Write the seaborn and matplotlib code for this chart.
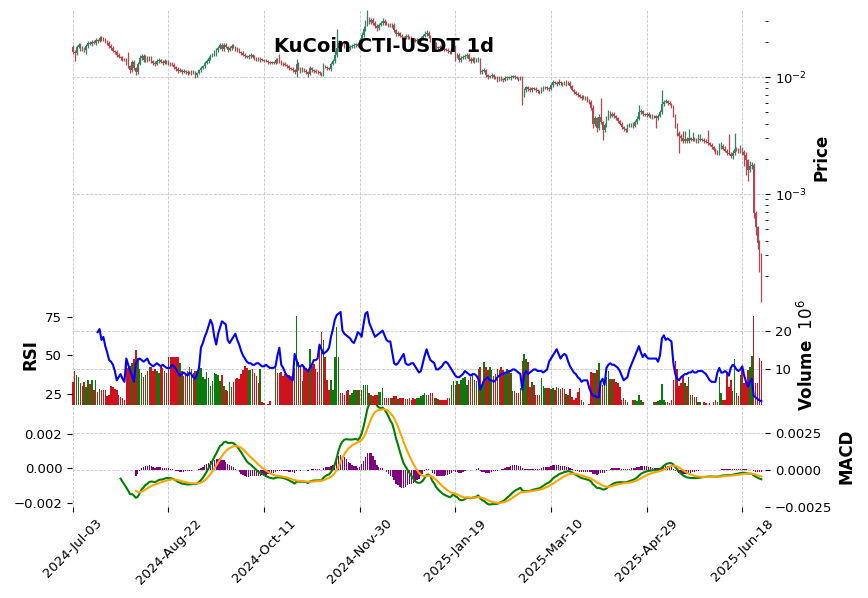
import numpy as np
import pandas as pd
import matplotlib
matplotlib.use("Agg")
import matplotlib.pyplot as plt
import matplotlib.ticker as mticker
import seaborn as sns

title = "KuCoin CTI-USDT 1d"
start_date = "2024-07-03"
first_open = 0.01806

# daily closes (USDT)
close = [
    0.01637, 0.01605, 0.01806, 0.01879, 0.01736, 0.01771, 0.01702, 0.01842, 0.01954, 0.01916,
    0.01993, 0.01954, 0.02073, 0.02033, 0.02156, 0.02114, 0.02073, 0.02033, 0.01954, 0.01842,
    0.01771, 0.01669, 0.01637, 0.01543, 0.01483, 0.01454, 0.01426, 0.01398, 0.01318, 0.01242,
    0.01148, 0.01344, 0.01194, 0.01104, 0.01292, 0.01454, 0.01513, 0.01398, 0.01483, 0.01398,
    0.01454, 0.01371, 0.01318, 0.01292, 0.01371, 0.01398, 0.01344, 0.01318, 0.01371, 0.01344,
    0.01318, 0.01292, 0.01267, 0.01218, 0.01171, 0.01126, 0.01148, 0.01104, 0.01126, 0.01104,
    0.01082, 0.01104, 0.01082, 0.01104, 0.01040, 0.01082, 0.01148, 0.01194, 0.01242, 0.01318,
    0.01371, 0.01454, 0.01513, 0.01573, 0.01637, 0.01702, 0.01771, 0.01879, 0.01736, 0.01879,
    0.01806, 0.01702, 0.01771, 0.01842, 0.01806, 0.01736, 0.01702, 0.01637, 0.01605, 0.01543,
    0.01513, 0.01483, 0.01513, 0.01543, 0.01483, 0.01454, 0.01426, 0.01398, 0.01426, 0.01398,
    0.01371, 0.01360, 0.01344, 0.01330, 0.01335, 0.01325, 0.01398, 0.01371, 0.01344, 0.01318,
    0.01292, 0.01267, 0.01242, 0.01194, 0.01171, 0.01148, 0.01104, 0.01292, 0.01194, 0.01148,
    0.01171, 0.01126, 0.01104, 0.01061, 0.01194, 0.01148, 0.01126, 0.01104, 0.01093, 0.01082,
    0.01061, 0.01242, 0.01218, 0.01194, 0.01171, 0.01292, 0.01371, 0.01543, 0.01771, 0.01954,
    0.01916, 0.01879, 0.01842, 0.01806, 0.01771, 0.01806, 0.01842, 0.01879, 0.01916, 0.01842,
    0.02073, 0.02288, 0.02575, 0.02841, 0.03074, 0.02955, 0.03074, 0.02898, 0.02732, 0.02626,
    0.02786, 0.02898, 0.03014, 0.02898, 0.02841, 0.02786, 0.02732, 0.02786, 0.02525, 0.02333,
    0.02380, 0.02243, 0.02199, 0.02156, 0.02243, 0.02199, 0.02156, 0.02114, 0.02073, 0.02033,
    0.02073, 0.02114, 0.02156, 0.02243, 0.02333, 0.02380, 0.02243, 0.02073, 0.01842, 0.01916,
    0.01771, 0.01806, 0.01771, 0.01736, 0.01720, 0.01702, 0.01669, 0.01637, 0.01736, 0.01806,
    0.01513, 0.01543, 0.01398, 0.01454, 0.01483, 0.01513, 0.01543, 0.01426, 0.01371, 0.01426,
    0.01371, 0.01398, 0.01426, 0.01104, 0.01126, 0.01148, 0.01040, 0.01000, 0.01020, 0.01040,
    0.01000, 0.00981, 0.00943, 0.00981, 0.00962, 0.00943, 0.00981, 0.01000, 0.00981, 0.01000,
    0.01020, 0.01000, 0.00981, 0.00962, 0.00981, 0.00702, 0.00774, 0.00821, 0.00790, 0.00774,
    0.00805, 0.00790, 0.00774, 0.00759, 0.00745, 0.00790, 0.00805, 0.00821, 0.00805, 0.00790,
    0.00854, 0.00906, 0.00889, 0.00871, 0.00906, 0.00889, 0.00871, 0.00906, 0.00871, 0.00889,
    0.00838, 0.00774, 0.00745, 0.00716, 0.00702, 0.00675, 0.00662, 0.00675, 0.00662, 0.00636,
    0.00612, 0.00544, 0.00396, 0.00446, 0.00366, 0.00455, 0.00412, 0.00352, 0.00389, 0.00446,
    0.00493, 0.00464, 0.00483, 0.00464, 0.00446, 0.00420, 0.00397, 0.00374, 0.00359, 0.00352,
    0.00381, 0.00389, 0.00397, 0.00381, 0.00412, 0.00438, 0.00502, 0.00512, 0.00483, 0.00473,
    0.00483, 0.00464, 0.00473, 0.00455, 0.00464, 0.00446, 0.00464, 0.00502, 0.00588, 0.00612,
    0.00624, 0.00600, 0.00588, 0.00565, 0.00473, 0.00389, 0.00332, 0.00313, 0.00301, 0.00284,
    0.00295, 0.00284, 0.00301, 0.00290, 0.00295, 0.00290, 0.00284, 0.00290, 0.00295, 0.00290,
    0.00284, 0.00279, 0.00273, 0.00263, 0.00253, 0.00238, 0.00229, 0.00220, 0.00248, 0.00258,
    0.00243, 0.00233, 0.00224, 0.00220, 0.00211, 0.00224, 0.00243, 0.00238, 0.00233, 0.00238,
    0.00229, 0.00216, 0.00195, 0.00160, 0.00173, 0.00177, 0.000689, 0.000522, 0.000382, 0.000301, 0.000233,
]

# upper / lower wick length, % beyond the candle body
upper_wick_pct = [
    4, 3, 5, 3, 4, 3, 2, 4, 5, 3,
    3, 4, 3, 2, 4, 3, 5, 3, 2, 3,
    4, 3, 2, 3, 3, 2, 3, 2, 4, 25,
    3, 5, 3, 2, 4, 6, 3, 4, 3, 2,
    3, 4, 2, 3, 3, 4, 2, 3, 3, 2,
    3, 2, 4, 3, 2, 3, 4, 2, 3, 2,
    3, 2, 3, 4, 2, 3, 3, 4, 2, 3,
    3, 4, 3, 2, 4, 3, 5, 3, 4, 3,
    3, 2, 4, 3, 3, 2, 4, 3, 2, 3,
    3, 2, 3, 3, 2, 3, 2, 3, 4, 2,
    2, 3, 2, 2, 3, 2, 4, 3, 15, 3,
    2, 3, 2, 3, 2, 3, 3, 10, 4, 3,
    3, 2, 3, 2, 5, 3, 2, 3, 3, 2,
    3, 6, 3, 2, 3, 4, 5, 8, 45, 6,
    3, 4, 3, 2, 3, 3, 4, 3, 2, 3,
    4, 5, 6, 8, 21, 5, 4, 3, 4, 3,
    3, 4, 5, 3, 3, 2, 3, 4, 3, 2,
    3, 2, 3, 2, 4, 3, 2, 3, 2, 3,
    3, 2, 3, 4, 5, 6, 3, 2, 3, 4,
    3, 2, 3, 2, 3, 2, 3, 2, 4, 5,
    3, 4, 3, 3, 4, 3, 4, 3, 3, 4,
    3, 4, 3, 2, 3, 4, 3, 2, 3, 4,
    3, 2, 3, 4, 3, 2, 4, 3, 3, 4,
    3, 2, 3, 2, 5, 3, 4, 3, 2, 3,
    3, 2, 3, 2, 3, 3, 4, 3, 2, 3,
    4, 5, 3, 3, 6, 3, 2, 3, 4, 3,
    3, 2, 3, 2, 3, 2, 3, 4, 2, 3,
    3, 4, 5, 4, 3, 6, 45, 3, 4, 5,
    5, 3, 4, 3, 2, 3, 2, 3, 2, 3,
    4, 3, 2, 3, 5, 6, 15, 4, 3, 2,
    3, 4, 3, 2, 3, 2, 4, 5, 32, 4,
    3, 2, 3, 2, 3, 2, 3, 4, 5, 15,
    18, 4, 20, 3, 15, 4, 3, 12, 10, 3,
    4, 3, 27, 2, 3, 2, 3, 4, 10, 8,
    3, 5, 4, 45, 3, 6, 37, 3, 4, 10,
    5, 4, 6, 3, 10, 6, 3, 4, 3, 5, 3,
]
lower_wick_pct = [
    4, 14, 3, 2, 4, 3, 4, 7, 3, 2,
    3, 2, 4, 3, 2, 3, 2, 3, 4, 3,
    3, 2, 3, 4, 2, 3, 3, 2, 4, 3,
    5, 3, 4, 6, 3, 2, 3, 4, 3, 3,
    2, 3, 4, 3, 2, 3, 2, 3, 2, 3,
    3, 4, 2, 3, 3, 4, 2, 3, 2, 3,
    3, 2, 3, 2, 5, 3, 2, 3, 2, 3,
    2, 3, 3, 2, 3, 8, 3, 2, 3, 3,
    2, 3, 2, 3, 2, 3, 3, 2, 3, 2,
    3, 2, 3, 3, 2, 3, 3, 2, 3, 2,
    2, 2, 3, 2, 2, 3, 2, 3, 2, 3,
    3, 2, 3, 3, 2, 3, 4, 10, 3, 5,
    3, 2, 3, 6, 2, 3, 3, 2, 3, 3,
    4, 3, 2, 3, 2, 3, 2, 3, 4, 3,
    3, 2, 3, 3, 2, 3, 2, 3, 3, 2,
    3, 2, 3, 4, 3, 4, 3, 3, 4, 5,
    3, 2, 3, 3, 2, 3, 2, 3, 4, 3,
    3, 2, 3, 3, 2, 3, 2, 3, 3, 2,
    3, 2, 3, 3, 2, 3, 3, 4, 6, 3,
    3, 2, 3, 2, 3, 2, 3, 4, 3, 2,
    10, 3, 4, 3, 2, 3, 3, 4, 3, 2,
    3, 2, 3, 4, 3, 2, 3, 3, 2, 3,
    3, 2, 3, 2, 3, 3, 2, 3, 2, 3,
    2, 3, 2, 3, 2, 18, 3, 3, 4, 3,
    3, 2, 3, 3, 3, 2, 3, 2, 3, 3,
    2, 3, 2, 3, 2, 3, 3, 2, 3, 2,
    3, 2, 3, 2, 3, 2, 3, 2, 3, 3,
    3, 4, 8, 3, 8, 4, 3, 18, 3, 4,
    3, 3, 2, 3, 3, 4, 3, 3, 3, 4,
    3, 2, 3, 3, 2, 3, 2, 3, 3, 2,
    3, 2, 3, 3, 2, 18, 3, 2, 3, 3,
    2, 3, 2, 3, 4, 5, 6, 29, 5, 4,
    3, 4, 3, 3, 2, 3, 4, 3, 3, 2,
    3, 2, 3, 3, 4, 3, 4, 3, 3, 2,
    3, 2, 3, 3, 4, 6, 3, 3, 4, 3,
    5, 20, 25, 20, 4, 5, 10, 15, 12, 29, 49,
]

# daily volume, millions
volume_m = [
    6.7, 9.5, 8.4, 8.0, 6.3, 5.5, 6.7, 5.3, 7.1, 6.0,
    7.1, 4.5, 7.1, 4.0, 4.7, 4.5, 4.5, 4.6, 2.9, 3.2,
    5.5, 5.3, 4.8, 4.5, 3.2, 2.7, 2.5, 1.8, 11.9, 10.3,
    10.7, 11.5, 12.6, 15.0, 12.9, 10.0, 8.9, 7.9, 8.4, 9.5,
    10.5, 10.5, 9.5, 9.9, 9.5, 8.9, 10.7, 10.3, 9.5, 8.9,
    13.2, 13.2, 13.2, 13.2, 13.2, 13.2, 11.5, 9.5, 8.1, 9.0,
    9.5, 10.5, 10.0, 9.0, 9.5, 9.5, 10.0, 10.3, 8.0, 7.3,
    9.2, 7.5, 5.5, 6.8, 9.0, 8.8, 8.5, 6.8, 8.5, 5.5,
    4.5, 4.1, 6.5, 5.3, 6.5, 7.3, 7.7, 7.3, 8.6, 9.6,
    10.7, 10.2, 9.8, 9.6, 10.0, 9.0, 8.2, 6.2, 10.1, 1.2,
    1.0, 0.4, 0.9, 1.5, 0.4, 0.4, 11.6, 8.9, 8.9, 9.1,
    8.1, 8.7, 8.3, 8.5, 8.1, 8.5, 10.2, 24.0, 11.9, 10.7,
    6.9, 10.7, 10.2, 9.7, 15.2, 10.7, 11.4, 9.9, 9.1, 16.3,
    19.8, 17.6, 13.2, 7.0, 4.5, 7.2, 4.5, 13.2, 21.0, 13.2,
    3.6, 3.8, 3.2, 4.1, 4.5, 3.2, 3.6, 4.4, 4.6, 4.4,
    4.6, 4.4, 5.7, 5.7, 5.8, 3.6, 3.2, 2.9, 3.2, 3.2,
    4.0, 4.0, 4.9, 2.3, 2.5, 2.3, 2.5, 2.5, 3.0, 3.0,
    2.0, 2.3, 2.3, 2.5, 2.0, 2.0, 2.3, 1.8, 2.3, 2.1,
    2.3, 2.5, 2.8, 3.2, 3.6, 3.2, 3.2, 3.6, 3.8, 2.3,
    2.3, 2.0, 1.8, 1.8, 1.8, 1.8, 2.3, 2.3, 5.8, 6.9,
    5.8, 6.9, 6.1, 7.2, 7.5, 7.8, 5.7, 7.2, 7.8, 8.8,
    7.2, 6.8, 9.9, 10.4, 5.9, 11.9, 10.4, 9.8, 10.4, 9.6,
    8.2, 8.8, 10.0, 9.7, 10.4, 9.8, 9.3, 9.9, 9.1, 8.9,
    4.3, 4.2, 3.6, 3.8, 5.0, 12.0, 14.0, 12.6, 11.7, 5.2,
    6.7, 5.8, 3.2, 3.2, 3.2, 7.6, 5.6, 5.1, 5.1, 5.0,
    4.7, 5.0, 4.5, 5.2, 5.0, 4.8, 5.0, 4.7, 3.4, 3.2,
    4.8, 2.6, 1.8, 2.3, 4.0, 5.0, 1.8, 1.2, 0.4, 0.4,
    0.8, 9.3, 8.9, 8.9, 9.7, 11.5, 6.9, 5.8, 6.1, 7.9,
    9.4, 7.3, 7.3, 7.3, 6.7, 6.3, 5.2, 1.8, 2.3, 1.8,
    1.3, 0.4, 0.4, 1.8, 1.8, 1.5, 3.1, 1.9, 1.3, 0.4,
    0.4, 0.4, 0.4, 0.4, 1.3, 1.3, 1.5, 1.8, 6.1, 1.8,
    1.3, 1.3, 1.0, 1.8, 7.2, 12.0, 10.0, 5.4, 6.3, 8.5,
    6.3, 5.4, 7.9, 3.1, 3.1, 2.7, 2.7, 1.3, 1.3, 0.4,
    1.3, 1.0, 0.4, 1.0, 0.4, 1.3, 1.8, 1.3, 7.9, 3.8,
    1.8, 1.8, 9.0, 5.2, 7.1, 4.2, 12.5, 3.6, 2.9, 8.4,
    9.7, 6.2, 6.6, 9.7, 10.5, 13.4, 23.8, 6.2, 6.2, 12.8, 12.0,
]

# RSI(14)
rsi_values = [np.nan] * 13 + [
    65, 67, 60, 62, 56, 52, 47,
    46, 44, 40, 34, 36, 38, 35, 33, 48, 44,
    40, 37, 33, 45, 47, 48, 47, 46, 47, 48,
    45, 44, 43, 44, 45, 44, 43, 44, 43, 42,
    42, 42, 44, 43, 41, 39, 37, 38, 39, 38,
    37, 39, 38, 36, 35, 38, 42, 55, 58, 62,
    65, 69, 73, 70, 62, 57, 64, 68, 72, 71,
    70, 60, 58, 60, 62, 64, 60, 57, 53, 50,
    48, 46, 45, 45, 44, 44, 45, 45, 44, 43,
    43, 44, 43, 42, 42, 42, 43, 50, 55, 44,
    42, 39, 37, 36, 35, 34, 51, 47, 43, 43,
    44, 42, 41, 40, 42, 44, 47, 47, 48, 57,
    54, 51, 52, 53, 55, 62, 67, 73, 76, 77,
    78, 66, 64, 63, 62, 61, 59, 58, 61, 65,
    64, 62, 70, 77, 78, 71, 68, 65, 62, 63,
    64, 65, 66, 63, 60, 59, 59, 52, 45, 44,
    45, 47, 49, 51, 45, 44, 44, 45, 45, 43,
    41, 39, 40, 45, 50, 54, 50, 47, 46, 45,
    41, 41, 42, 43, 45, 46, 45, 43, 41, 39,
    37, 36, 36, 37, 38, 40, 39, 38, 37, 38,
    38, 37, 35, 28, 31, 34, 35, 36, 34, 34,
    33, 34, 36, 37, 38, 38, 39, 39, 40, 40,
    41, 41, 40, 39, 38, 28, 38, 40, 38, 39,
    40, 41, 41, 40, 40, 40, 39, 40, 41, 46,
    48, 50, 52, 54, 51, 48, 50, 51, 50, 46,
    43, 41, 39, 38, 36, 35, 33, 34, 34, 34,
    29, 26, 24, 24, 23, 23, 33, 35, 31, 42,
    44, 45, 44, 44, 43, 42, 40, 37, 34, 35,
    36, 41, 44, 47, 50, 53, 56, 52, 49, 51,
    49, 48, 48, 48, 48, 48, 46, 50, 61, 63,
    60, 61, 60, 59, 45, 38, 35, 34, 36, 37,
    38, 38, 39, 39, 40, 39, 39, 40, 40, 40,
    39, 38, 36, 34, 33, 33, 33, 39, 42, 39,
    39, 40, 39, 37, 42, 44, 43, 41, 40, 41,
    43, 37, 33, 30, 33, 35, 24, 23, 22, 21, 20.6,
]

n = len(close)
assert len(upper_wick_pct) == n and len(lower_wick_pct) == n
assert len(volume_m) == n and len(rsi_values) == n, (n, len(volume_m), len(rsi_values))

dates = pd.date_range(start_date, periods=n, freq="D")
idx = np.arange(n)
c = np.array(close)
o = np.concatenate([[first_open], c[:-1]])
top = np.maximum(o, c)
bot = np.minimum(o, c)
high = top * (1 + np.array(upper_wick_pct) / 100.0)
low = bot * (1 - np.array(lower_wick_pct) / 100.0)
up = c >= o

s = pd.Series(c)
ema12 = s.ewm(span=12, adjust=False, min_periods=26).mean()
ema26 = s.ewm(span=26, adjust=False, min_periods=26).mean()
macd = ema12 - ema26
signal = macd.ewm(span=9, adjust=False, min_periods=9).mean()
hist = macd - signal

UP_C, DN_C = "#2f8462", "#b5474f"
VUP_C, VDN_C = "#0a7a0a", "#d0121c"
GRID = dict(linestyle="--", linewidth=0.6, color="#c4c4c4")

fig = plt.figure(figsize=(8.68, 5.98), dpi=100)
L, W = 72 / 868, (765 - 72) / 868
ax_p = fig.add_axes([L, 1 - 305 / 598, W, 295 / 598])
ax_v = fig.add_axes([L, 1 - 405 / 598, W, 100 / 598], sharex=ax_p)
ax_h = fig.add_axes([L, 1 - 507 / 598, W, 102 / 598], sharex=ax_p)
ax_r = ax_v.twinx()
ax_m = ax_h.twinx()

# --- price candles
cols = np.where(up, UP_C, DN_C)
ax_p.vlines(idx, low, high, colors=cols, linewidth=0.9)
ax_p.bar(idx, top - bot, bottom=bot, width=0.7, color=cols, linewidth=0)
ax_p.set_yscale("log")
ax_p.set_ylim(0.0001125, 0.0374)

# --- volume + RSI
vcols = np.where(up, VUP_C, VDN_C)
ax_v.bar(idx, volume_m, width=0.8, color=vcols, linewidth=0)
ax_v.set_ylim(0.53, 26.8)
ax_v.set_yticks([10, 20])
rsi_df = pd.DataFrame({"i": idx, "rsi": rsi_values}).dropna()
sns.lineplot(data=rsi_df, x="i", y="rsi", ax=ax_r, color="blue", linewidth=1.5, legend=False)
ax_r.set_ylim(18.1, 82.5)
ax_r.set_yticks([25, 50, 75])

# --- MACD
ax_h.bar(idx, hist.values, width=0.7, color="purple", linewidth=0)
ax_h.set_ylim(-0.00248, 0.004357)
ax_h.set_yticks([-0.0025, 0.0, 0.0025])
mdf = pd.DataFrame({"i": idx, "macd": macd.values, "signal": signal.values})
sns.lineplot(data=mdf.dropna(subset=["macd"]), x="i", y="macd", ax=ax_m, color="green", linewidth=1.5, legend=False)
sns.lineplot(data=mdf.dropna(subset=["signal"]), x="i", y="signal", ax=ax_m, color="orange", linewidth=1.5, legend=False)
ax_m.set_ylim(-0.00224, 0.00367)
ax_m.set_yticks([-0.002, 0.0, 0.002])

fmt4 = mticker.FuncFormatter(lambda v, p: f"{v:.4f}".replace("-", "\u2212"))
fmt3 = mticker.FuncFormatter(lambda v, p: f"{v:.3f}".replace("-", "\u2212"))
ax_h.yaxis.set_major_formatter(fmt4)
ax_m.yaxis.set_major_formatter(fmt3)

# --- axes cosmetics
for ax in (ax_p, ax_v, ax_h, ax_r, ax_m):
    for sp in ax.spines.values():
        sp.set_visible(False)
    ax.tick_params(labelsize=9.5)
    ax.set_xlabel("")

for ax in (ax_p, ax_v, ax_h):
    ax.grid(True, which="major", **GRID)
    ax.set_axisbelow(True)
    ax.yaxis.tick_right()
    ax.yaxis.set_label_position("right")
for ax in (ax_r, ax_m):
    ax.grid(False)

ax_r.yaxis.tick_left()
ax_r.yaxis.set_label_position("left")
ax_m.yaxis.tick_left()
ax_m.yaxis.set_label_position("left")

ax_p.set_xlim(-0.4, 361.9)
ticks = list(range(0, n, 50))
ax_h.set_xticks(ticks)
ax_h.set_xticklabels([dates[t].strftime("%Y-%b-%d") for t in ticks], rotation=45, ha="center", fontsize=9.5)
for ax in (ax_p, ax_v, ax_r):
    ax.tick_params(axis="x", labelbottom=False, length=0)
ax_m.tick_params(axis="x", labelbottom=False, length=0)

lab = dict(fontsize=12, fontweight="bold")
ax_p.set_ylabel("Price", **lab)
ax_v.set_ylabel("Volume  $10^{6}$", **lab)
ax_r.set_ylabel("RSI", **lab)
ax_h.set_ylabel("MACD", **lab)
ax_m.set_ylabel("")

fig.text(384.5 / 868, 1 - 47 / 598, title, fontsize=14, fontweight="bold", ha="center", va="center")

fig.savefig("out.png", dpi=100)
